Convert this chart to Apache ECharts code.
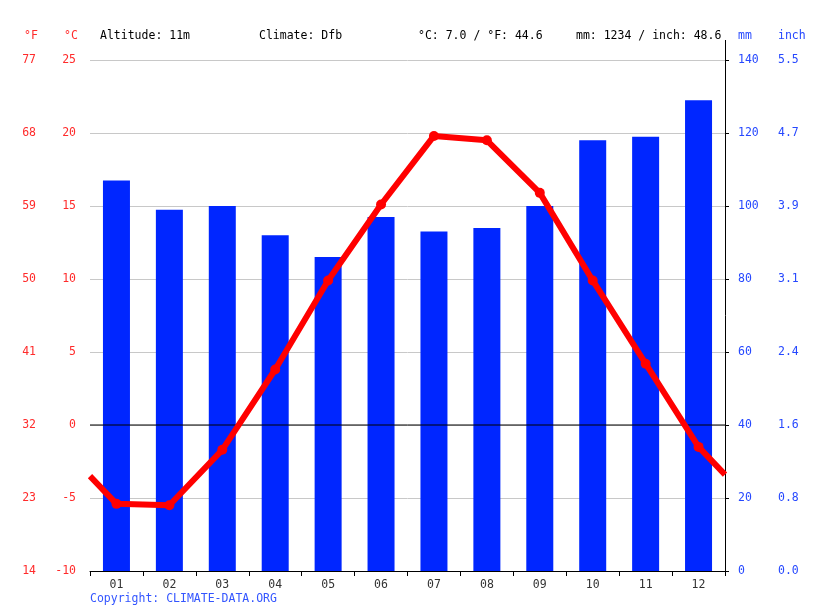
<!DOCTYPE html>
<html><head><meta charset="utf-8">
<script src="https://cdn.jsdelivr.net/npm/echarts@6/dist/echarts.min.js"></script>
<style>html,body{margin:0;padding:0;background:#fff}#c{width:815px;height:611px}</style>
</head><body><div id="c"></div>
<script>
var months = ['01','02','03','04','05','06','07','08','09','10','11','12'];
var precipMm = [107, 99, 100, 92, 86, 97, 93, 94, 100, 118, 119, 129];
var tempC = [-5.4, -5.5, -1.7, 3.8, 9.9, 15.1, 19.8, 19.5, 15.9, 9.9, 4.2, -1.5];
var edgeTempLeft = -3.5;
var edgeTempRight = -3.4;
var altitude = '11m';
var climate = 'Dfb';

var FONT = 'DejaVu Sans Mono';
var FS = '11.5px ';
var RED = '#ff2b2b';
var BLUE = '#2648ff';

var meanC = tempC.reduce(function(a,b){return a+b;},0)/tempC.length;
var meanF = meanC*9/5+32;
var sumMm = precipMm.reduce(function(a,b){return a+b;},0);
var sumIn = sumMm/25.4;

var lineData = [{value:[0.5, edgeTempLeft], symbol:'none'}];
tempC.forEach(function(t,i){ lineData.push([i+1, t]); });
lineData.push({value:[12.5, edgeTempRight], symbol:'none'});

var chart = echarts.init(document.getElementById('c'), null, {renderer:'canvas'});
var axisLabelBase = {fontFamily: FONT, fontSize: 11.5};
chart.setOption({
  animation: false,
  grid: {left: 90, right: 90, top: 60, bottom: 40, containLabel: false},
  xAxis: [
    {type:'category', data: months, boundaryGap: true,
     axisLine:{show:true, onZero:false, lineStyle:{color:'#000', width:1}},
     axisTick:{show:true, length:5, lineStyle:{color:'#000'}},
     axisLabel:{color:'#333', fontFamily: FONT, fontSize: 11.5, margin: 8},
     splitLine:{show:false}},
    {type:'value', min:0.5, max:12.5, show:false}
  ],
  yAxis: [
    {type:'value', min:-10, max:25, interval:5, position:'left',
     axisLine:{show:false}, axisTick:{show:false},
     axisLabel:Object.assign({color: RED, margin: 14}, axisLabelBase),
     splitLine:{show:true, lineStyle:{color:'#c8c8c8', width:1}}},
    {type:'value', min:-10, max:25, interval:5, position:'left', offset:40,
     axisLine:{show:false}, axisTick:{show:false},
     axisLabel:Object.assign({color: RED, margin: 14, formatter:function(v){return Math.round(v*9/5+32);}}, axisLabelBase),
     splitLine:{show:false}},
    {type:'value', min:0, max:140, interval:20, position:'right',
     axisLine:{show:true, lineStyle:{color:'#000', width:1}},
     axisTick:{show:true, length:4, lineStyle:{color:'#000'}},
     axisLabel:Object.assign({color: BLUE, margin: 13}, axisLabelBase),
     splitLine:{show:false}},
    {type:'value', min:0, max:140, interval:20, position:'right', offset:40,
     axisLine:{show:false}, axisTick:{show:false},
     axisLabel:Object.assign({color: BLUE, margin: 13, formatter:function(v){return (v/25.4).toFixed(1);}}, axisLabelBase),
     splitLine:{show:false}}
  ],
  series: [
    {type:'bar', xAxisIndex:0, yAxisIndex:2, data: precipMm, barWidth: 27,
     itemStyle:{color:'#0026ff'}, z:2},
    {type:'line', xAxisIndex:1, yAxisIndex:0, data:[[0.5,0],[12.5,0]], symbol:'none',
     lineStyle:{color:'#000', width:1}, z:3, silent:true},
    {type:'line', xAxisIndex:1, yAxisIndex:0, data: lineData,
     symbol:'circle', symbolSize:10, showSymbol:true,
     lineStyle:{color:'#ff0000', width:6}, itemStyle:{color:'#ff0000'}, z:5}
  ],
  graphic: [
    {type:'line', shape:{x1:725.5, y1:40, x2:725.5, y2:60}, style:{stroke:'#000', lineWidth:1}},
    {type:'text', left:24, top:30, style:{text:'°F', fill:RED, font:FS+FONT}},
    {type:'text', left:64, top:30, style:{text:'°C', fill:RED, font:FS+FONT}},
    {type:'text', left:100, top:30, style:{text:'Altitude: '+altitude, fill:'#000', font:FS+FONT}},
    {type:'text', left:259, top:30, style:{text:'Climate: '+climate, fill:'#000', font:FS+FONT}},
    {type:'text', left:418, top:30, style:{text:'°C: '+meanC.toFixed(1)+' / °F: '+meanF.toFixed(1), fill:'#000', font:FS+FONT}},
    {type:'text', left:576, top:30, style:{text:'mm: '+sumMm+' / inch: '+sumIn.toFixed(1), fill:'#000', font:FS+FONT}},
    {type:'text', left:738, top:30, style:{text:'mm', fill:BLUE, font:FS+FONT}},
    {type:'text', left:778, top:30, style:{text:'inch', fill:BLUE, font:FS+FONT}},
    {type:'text', left:90, top:593, style:{text:'Copyright: CLIMATE-DATA.ORG', fill:'#3355ff', font:FS+FONT}}
  ]
});
</script></body></html>
